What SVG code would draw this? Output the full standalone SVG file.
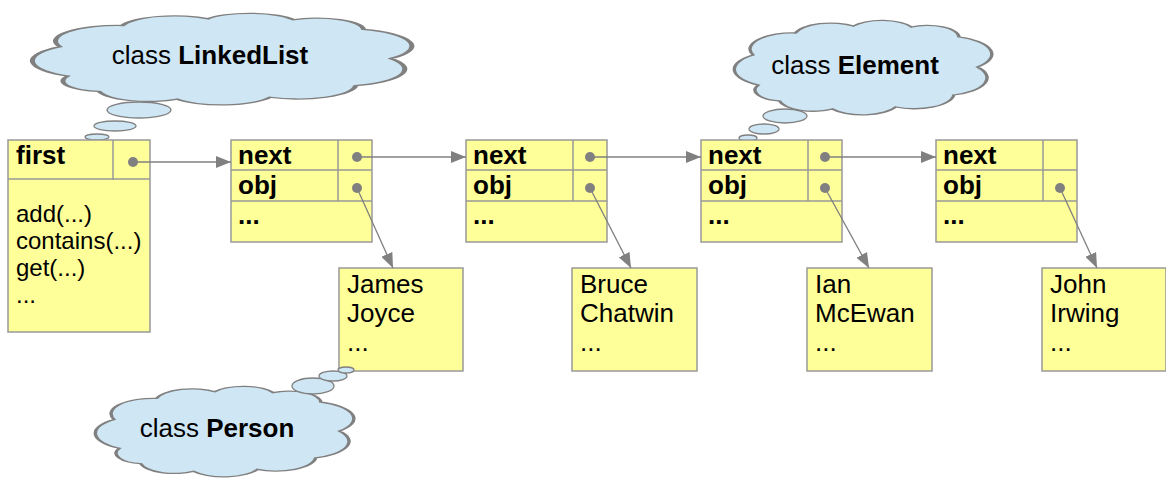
<svg xmlns="http://www.w3.org/2000/svg" xmlns:xlink="http://www.w3.org/1999/xlink" width="1166" height="478" viewBox="0 0 1166 478">
<style>
.box{fill:#ffff99;stroke:#999;stroke-width:1.5}
.div{stroke:#999;stroke-width:1.5;fill:none}
.cloud{fill:#cfe6f4;stroke:#808080;stroke-width:1.3;vector-effect:non-scaling-stroke}
.bub{fill:#cfe6f4;stroke:#808080;stroke-width:1.3}
.dot{fill:#808080}
.con{stroke:#808080;stroke-width:1.3;fill:none}
text{font-family:"Liberation Sans",Arial,sans-serif;fill:#000}
.lbl{font-size:26px;font-weight:bold}
.m{font-size:24px}
.p{font-size:26px}
.c{font-size:26px;text-anchor:middle}
.b{font-weight:bold}
</style>
<defs>
<path id="cloudp" d="M10,68 A18,18 0 0 1 8,38 A16,16 0 0 1 24,16 A14,14 0 0 1 46,9 A13,13 0 0 1 68,10 A12,12 0 0 1 86,20 A18,18 0 0 1 93,50 A18,18 0 0 1 84,78 A15,15 0 0 1 62,90 A14,14 0 0 1 38,92 A13,13 0 0 1 18,84 A11,11 0 0 1 10,68 Z"/>
<marker id="ah" markerUnits="userSpaceOnUse" markerWidth="16" markerHeight="12" refX="15" refY="6" orient="auto">
<path d="M0,0 L15,6 L0,12 Z" fill="#808080"/>
</marker>
</defs>

<g id="cloud-linkedlist">
<use xlink:href="#cloudp" class="cloud" transform="translate(29,10) scale(3.89,0.97)"/>
<ellipse class="bub" cx="139" cy="110" rx="32" ry="8"/>
<ellipse class="bub" cx="115" cy="126" rx="21" ry="5"/>
<ellipse class="bub" cx="97" cy="137" rx="12" ry="3"/>
<text class="c" x="210" y="64">class <tspan class="b">LinkedList</tspan></text>
</g>

<g id="cloud-element">
<use xlink:href="#cloudp" class="cloud" transform="translate(732,17) scale(2.64,1.0)"/>
<ellipse class="bub" cx="785" cy="116" rx="22" ry="7"/>
<ellipse class="bub" cx="764" cy="129" rx="15" ry="5"/>
<ellipse class="bub" cx="748" cy="138" rx="9" ry="3"/>
<text class="c" x="855" y="74">class <tspan class="b">Element</tspan></text>
</g>

<g id="linkedlist">
<rect class="box" x="8" y="140" width="142" height="192"/>
<line class="div" x1="8" y1="179" x2="150" y2="179"/>
<line class="div" x1="113" y1="140" x2="113" y2="180"/>
<circle class="dot" cx="133" cy="162" r="5"/>
<text class="lbl" x="16" y="164">first</text>
<text class="m" x="16" y="222">add(...)</text>
<text class="m" x="16" y="249">contains(...)</text>
<text class="m" x="16" y="276">get(...)</text>
<text class="m" x="16" y="303">...</text>
</g>

<g id="element1">
<rect class="box" x="231" y="140" width="141" height="102"/>
<line class="div" x1="231" y1="170" x2="372" y2="170"/>
<line class="div" x1="231" y1="201" x2="372" y2="201"/>
<line class="div" x1="338" y1="140" x2="338" y2="201"/>
<circle class="dot" cx="357" cy="157" r="5"/>
<circle class="dot" cx="357" cy="188" r="5"/>
<text class="lbl" x="238" y="164">next</text>
<text class="lbl" x="238" y="194">obj</text>
<text class="lbl" x="238" y="224">...</text>
</g>

<g id="element2">
<rect class="box" x="466" y="140" width="141" height="102"/>
<line class="div" x1="466" y1="170" x2="607" y2="170"/>
<line class="div" x1="466" y1="201" x2="607" y2="201"/>
<line class="div" x1="573" y1="140" x2="573" y2="201"/>
<circle class="dot" cx="590" cy="157" r="5"/>
<circle class="dot" cx="590" cy="188" r="5"/>
<text class="lbl" x="473" y="164">next</text>
<text class="lbl" x="473" y="194">obj</text>
<text class="lbl" x="473" y="224">...</text>
</g>

<g id="element3">
<rect class="box" x="701" y="140" width="141" height="102"/>
<line class="div" x1="701" y1="170" x2="842" y2="170"/>
<line class="div" x1="701" y1="201" x2="842" y2="201"/>
<line class="div" x1="808" y1="140" x2="808" y2="201"/>
<circle class="dot" cx="825" cy="157" r="5"/>
<circle class="dot" cx="825" cy="188" r="5"/>
<text class="lbl" x="708" y="164">next</text>
<text class="lbl" x="708" y="194">obj</text>
<text class="lbl" x="708" y="224">...</text>
</g>

<g id="element4">
<rect class="box" x="936" y="140" width="141" height="102"/>
<line class="div" x1="936" y1="170" x2="1077" y2="170"/>
<line class="div" x1="936" y1="201" x2="1077" y2="201"/>
<line class="div" x1="1043" y1="140" x2="1043" y2="201"/>
<circle class="dot" cx="1060" cy="188" r="5"/>
<text class="lbl" x="943" y="164">next</text>
<text class="lbl" x="943" y="194">obj</text>
<text class="lbl" x="943" y="224">...</text>
</g>

<g id="person1">
<rect class="box" x="339" y="268" width="124" height="103"/>
<text class="p" x="347" y="293">James</text>
<text class="p" x="347" y="322">Joyce</text>
<text class="p" x="347" y="351">...</text>
</g>

<g id="person2">
<rect class="box" x="572" y="268" width="125" height="103"/>
<text class="p" x="580" y="293">Bruce</text>
<text class="p" x="580" y="322">Chatwin</text>
<text class="p" x="580" y="351">...</text>
</g>

<g id="person3">
<rect class="box" x="807" y="268" width="125" height="103"/>
<text class="p" x="815" y="293">Ian</text>
<text class="p" x="815" y="322">McEwan</text>
<text class="p" x="815" y="351">...</text>
</g>

<g id="person4">
<rect class="box" x="1042" y="268" width="124" height="103"/>
<text class="p" x="1050" y="293">John</text>
<text class="p" x="1050" y="322">Irwing</text>
<text class="p" x="1050" y="351">...</text>
</g>

<g id="cloud-person">
<use xlink:href="#cloudp" class="cloud" transform="translate(93,383) scale(2.65,0.96)"/>
<ellipse class="bub" cx="313" cy="386" rx="21" ry="8"/>
<ellipse class="bub" cx="333" cy="376" rx="14" ry="5"/>
<ellipse class="bub" cx="346" cy="370" rx="8" ry="3"/>
<text class="c" x="217" y="437">class <tspan class="b">Person</tspan></text>
</g>

<g id="connectors">
<line class="con" x1="133" y1="162" x2="231" y2="162" marker-end="url(#ah)"/>
<line class="con" x1="357" y1="157" x2="466" y2="157" marker-end="url(#ah)"/>
<line class="con" x1="590" y1="157" x2="701" y2="157" marker-end="url(#ah)"/>
<line class="con" x1="825" y1="157" x2="936" y2="157" marker-end="url(#ah)"/>
<line class="con" x1="357" y1="188" x2="393" y2="268" marker-end="url(#ah)"/>
<line class="con" x1="590" y1="188" x2="631" y2="268" marker-end="url(#ah)"/>
<line class="con" x1="825" y1="188" x2="869" y2="268" marker-end="url(#ah)"/>
<line class="con" x1="1060" y1="188" x2="1097" y2="268" marker-end="url(#ah)"/>
</g>
</svg>
